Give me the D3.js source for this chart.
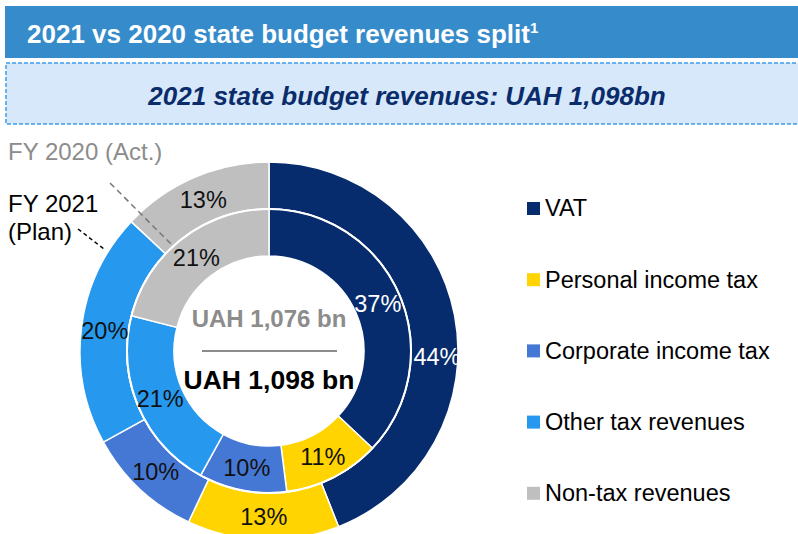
<!DOCTYPE html>
<html><head><meta charset="utf-8">
<script src="https://cdn.jsdelivr.net/npm/d3@7/dist/d3.min.js"></script>
<style>body{margin:0;background:#fff}svg{display:block;font-family:"Liberation Sans",Arial,sans-serif}</style>
</head><body><svg id="c" width="798" height="534"></svg>
<script>
const categories = ["VAT","Personal income tax","Corporate income tax","Other tax revenues","Non-tax revenues"];
const colors = ["#072C6E","#FFD400","#4578D4","#2698EE","#BFBFBF"];
const fy2021 = [44,13,10,20,13];   // outer ring, FY 2021 (Plan)
const fy2020 = [37,11,10,21,21];   // inner ring, FY 2020 (Act.)
const totals = {fy2020:"UAH 1,076 bn", fy2021:"UAH 1,098 bn"};
const title = "2021 vs 2020 state budget revenues split";
const subtitle = "2021 state budget revenues: UAH 1,098bn";

const svg = d3.select("#c");
// title bar
svg.append("rect").attr("x",5).attr("y",6).attr("width",793).attr("height",52).attr("fill","#368BCB");
const t = svg.append("text").attr("x",27).attr("y",43).attr("fill","#fff").attr("font-weight","bold").attr("font-size",26).text(title);
t.append("tspan").attr("font-size",15).attr("dy",-10).text("1");
// subtitle box
svg.append("rect").attr("x",6).attr("y",63).attr("width",800).attr("height",61).attr("fill","#D6E8FA")
  .attr("stroke","#3C9BEA").attr("stroke-width",1.5).attr("stroke-dasharray","4,2");
svg.append("text").attr("x",407).attr("y",105).attr("text-anchor","middle").attr("fill","#0B2C6B")
  .attr("font-weight","bold").attr("font-style","italic").attr("font-size",26).text(subtitle);

const cx=269, cy=351, R=189, Rm=142, r0=95;
const g = svg.append("g").attr("transform",`translate(${cx},${cy})`);
const pie = d3.pie().sort(null).value(d=>d);
const outerArc = d3.arc().innerRadius(Rm).outerRadius(R);
const innerArc = d3.arc().innerRadius(r0).outerRadius(Rm);
const oa = pie(fy2021), ia = pie(fy2020);
g.selectAll("path.o").data(oa).join("path").attr("class","o").attr("d",outerArc)
  .attr("fill",(d,i)=>colors[i]).attr("stroke","#fff").attr("stroke-width",1.5);
g.selectAll("path.i").data(ia).join("path").attr("class","i").attr("d",innerArc)
  .attr("fill",(d,i)=>colors[i]).attr("stroke","#fff").attr("stroke-width",1.5);
g.append("circle").attr("r",Rm).attr("fill","none").attr("stroke","#fff").attr("stroke-width",2);

const lblColor = i => i===0 ? "#fff" : "#111";
g.selectAll("text.o").data(oa).join("text").attr("class","o")
  .attr("transform",(d,i)=>{
    let a = (d.startAngle+d.endAngle)/2, rr=(R+Rm)/2;
    if(i===0){ a = Math.PI*0.51; rr = 168; }
    return `translate(${Math.sin(a)*rr},${-Math.cos(a)*rr})`;
  })
  .attr("text-anchor","middle").attr("dy","0.36em").attr("font-size",23.5)
  .attr("fill",(d,i)=>lblColor(i)).text(d=>d.data+"%");
g.selectAll("text.i").data(ia).join("text").attr("class","i")
  .attr("transform",d=>{const c=innerArc.centroid(d);return `translate(${c[0]},${c[1]})`;})
  .attr("text-anchor","middle").attr("dy","0.36em").attr("font-size",23.5)
  .attr("fill",(d,i)=>lblColor(i)).text(d=>d.data+"%");

// center
g.append("text").attr("y",-24).attr("text-anchor","middle").attr("font-weight","bold").attr("font-size",24).attr("fill","#8C8C8C").text(totals.fy2020);
g.append("line").attr("x1",-67).attr("x2",68).attr("y1",0).attr("y2",0).attr("stroke","#666").attr("stroke-width",1.5);
g.append("text").attr("y",38).attr("text-anchor","middle").attr("font-weight","bold").attr("font-size",26.5).attr("fill","#000").text(totals.fy2021);

// ring annotations
svg.append("text").attr("x",8).attr("y",160).attr("font-size",24).attr("fill","#8C8C8C").text("FY 2020 (Act.)");
svg.append("line").attr("x1",110).attr("y1",183).attr("x2",171).attr("y2",244).attr("stroke","#777").attr("stroke-width",1.5).attr("stroke-dasharray","6,4");
const fy = svg.append("text").attr("font-size",24).attr("fill","#000");
fy.append("tspan").attr("x",8).attr("y",212).text("FY 2021");
fy.append("tspan").attr("x",8).attr("y",240).text("(Plan)");
svg.append("line").attr("x1",78).attr("y1",229).attr("x2",104).attr("y2",249).attr("stroke","#000").attr("stroke-width",1.5).attr("stroke-dasharray","4,3");

// legend
const lg = svg.append("g");
const rows = lg.selectAll("g").data(categories).join("g").attr("transform",(d,i)=>`translate(527,${208+i*71.2})`);
rows.append("rect").attr("x",0).attr("y",-6).attr("width",13).attr("height",13).attr("fill",(d,i)=>colors[i]);
rows.append("text").attr("x",18).attr("dy","0.36em").attr("font-size",23.5).attr("fill","#000").text(d=>d);
</script></body></html>
